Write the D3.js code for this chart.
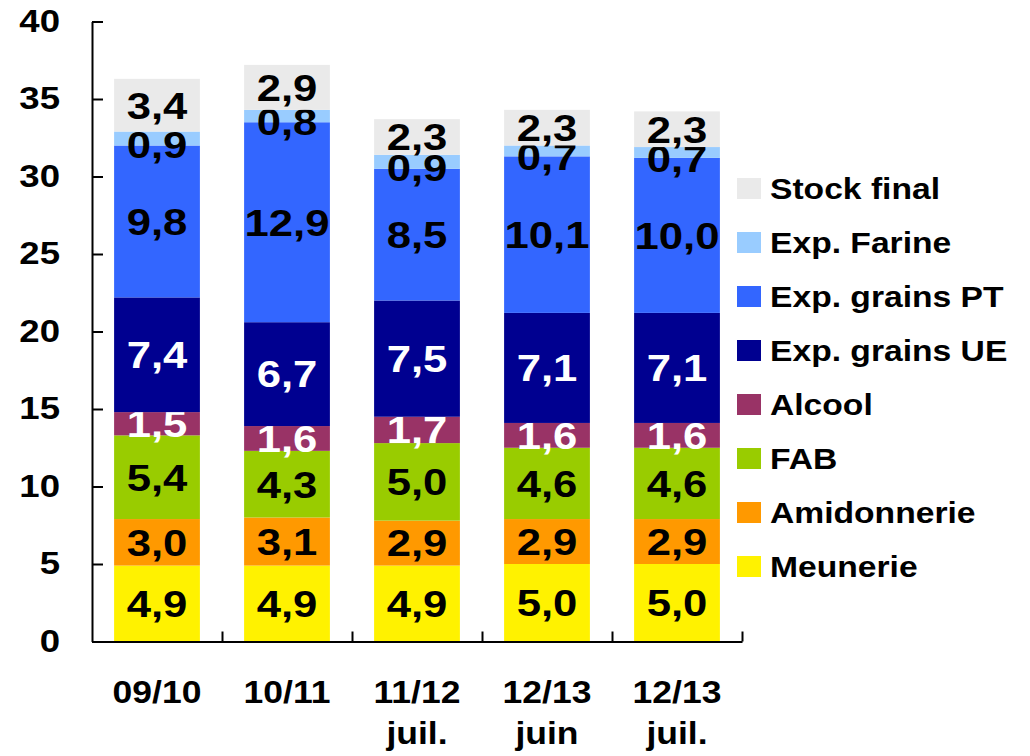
<!DOCTYPE html>
<html>
<head>
<meta charset="utf-8">
<script src="https://cdn.jsdelivr.net/npm/d3@7"></script>
<style>
  body { margin: 0; background: #fff; }
  svg { display: block; font-family: "Liberation Sans", Arial, sans-serif; font-weight: bold; }
</style>
</head>
<body>
<div id="graph"></div>
<script>
// campaigns (bottom line after the space)
var categories = ["09/10", "10/11", "11/12 juil.", "12/13 juin", "12/13 juil."];

// series, bottom to top
var seriesNames = ["Meunerie", "Amidonnerie", "FAB", "Alcool", "Exp. grains UE", "Exp. grains PT", "Exp. Farine", "Stock final"];
var meunerie    = [4.9, 4.9, 4.9, 5.0, 5.0];
var amidonnerie = [3.0, 3.1, 2.9, 2.9, 2.9];
var fab         = [5.4, 4.3, 5.0, 4.6, 4.6];
var alcool      = [1.5, 1.6, 1.7, 1.6, 1.6];
var expUE       = [7.4, 6.7, 7.5, 7.1, 7.1];
var expPT       = [9.8, 12.9, 8.5, 10.1, 10.0];
var expFarine   = [0.9, 0.8, 0.9, 0.7, 0.7];
var stockFinal  = [3.4, 2.9, 2.3, 2.3, 2.3];

var yTicks = [0, 5, 10, 15, 20, 25, 30, 35, 40];

var allSeries = [meunerie, amidonnerie, fab, alcool, expUE, expPT, expFarine, stockFinal];

var colors = ["#FFF200", "#FF9900", "#99CC00", "#993366", "#000090", "#3366FF", "#99CCFF", "#EAEAEA"];
var labelColors = ["#000", "#000", "#000", "#fff", "#fff", "#000", "#000", "#000"];

// rows for d3.stack
var rows = categories.map(function(c, i) {
  var r = {cat: c};
  seriesNames.forEach(function(s, j) { r[s] = allSeries[j][i]; });
  return r;
});

var width = 1030, height = 756;

var svg = d3.select('#graph').append('svg')
  .attr('width', width)
  .attr('height', height);

var x = d3.scaleBand()
  .domain(categories)
  .range([92, 742])
  .paddingInner(0.34)
  .paddingOuter(0.17);

var y = d3.scaleLinear()
  .domain([0, 40])
  .range([641.5, 21.5]);

var stack = d3.stack().keys(seriesNames);
var stacked = stack(rows);

// bars
var layer = svg.append('g')
  .selectAll('g')
  .data(stacked)
  .enter().append('g')
    .attr('fill', function(d, i) { return colors[i]; });

layer.selectAll('rect')
  .data(function(d) { return d; })
  .enter().append('rect')
    .attr('x', function(d) { return x(d.data.cat); })
    .attr('width', x.bandwidth())
    .attr('y', function(d) { return y(d[1]); })
    .attr('height', function(d) { return y(d[0]) - y(d[1]); });

// value labels (text a bit wide in the original, so stretch horizontally)
var sVal = 1.18;
layer.each(function(s, i) {
  d3.select(this).selectAll('text')
    .data(s)
    .enter().append('text')
      .attr('transform', function(d) {
        var cx = x(d.data.cat) + x.bandwidth() / 2;
        var cy = (y(d[0]) + y(d[1])) / 2 + (s.key === "Exp. Farine" ? 6 : 0);
        return 'translate(' + cx + ',' + cy + ') scale(' + sVal + ',1)';
      })
      .attr('dy', '0.36em')
      .attr('text-anchor', 'middle')
      .style('font-size', '37px')
      .attr('fill', labelColors[i])
      .text(function(d) { return d3.format('.1f')(d[1] - d[0]).replace('.', ','); });
});

// y axis, ticks inside
var sTick = 1.18;
var yAxis = svg.append('g')
  .attr('transform', 'translate(92,0)')
  .call(d3.axisLeft(y).tickValues(yTicks).tickSizeInner(-11).tickSizeOuter(0).tickPadding(32));
yAxis.select('.domain').attr('stroke', '#000').attr('stroke-width', 2);
yAxis.selectAll('.tick line').attr('stroke', '#000').attr('stroke-width', 2);
yAxis.selectAll('.tick text')
  .attr('x', -32 / sTick)
  .attr('transform', 'scale(' + sTick + ',1)')
  .attr('fill', '#000')
  .style('font-size', '31px')
  .style('font-family', '"Liberation Sans", Arial, sans-serif')
  .style('font-weight', 'bold');

// x axis: separators between categories
var xEdge = d3.scaleLinear().domain([0, categories.length]).range(x.range());
var xAxis = svg.append('g')
  .attr('transform', 'translate(0,' + y(0) + ')')
  .call(d3.axisBottom(xEdge).tickValues(d3.range(1, categories.length + 1)).tickSizeInner(-10).tickSizeOuter(0).tickFormat(''));
xAxis.select('.domain').attr('stroke', '#000').attr('stroke-width', 2);
xAxis.selectAll('.tick line').attr('stroke', '#000').attr('stroke-width', 2);

// category labels
var sCat = 1.11;
var catText = svg.append('g')
  .selectAll('text')
  .data(categories)
  .enter().append('text')
    .attr('transform', function(d) {
      return 'translate(' + (x(d) + x.bandwidth() / 2) + ',703) scale(' + sCat + ',1)';
    })
    .attr('text-anchor', 'middle')
    .style('font-size', '32px');

catText.each(function(d) {
  var parts = d.split(' ');
  var t = d3.select(this);
  parts.forEach(function(p, k) {
    t.append('tspan').attr('x', 0).attr('dy', k === 0 ? 0 : 41).text(p);
  });
});

// legend, top item = top of the stack
var sLeg = 1.16;
var legend = svg.append('g')
  .selectAll('g')
  .data(seriesNames.slice().reverse())
  .enter().append('g')
    .attr('transform', function(d, i) { return 'translate(737,' + (188.5 + i * 54) + ')'; });

legend.append('rect')
  .attr('x', 0)
  .attr('y', -10.5)
  .attr('width', 24)
  .attr('height', 21)
  .attr('fill', function(d) { return colors[seriesNames.indexOf(d)]; });

legend.append('text')
  .attr('transform', 'translate(33,0) scale(' + sLeg + ',1)')
  .attr('dy', '0.36em')
  .style('font-size', '29px')
  .text(function(d) { return d; });
</script>
</body>
</html>
